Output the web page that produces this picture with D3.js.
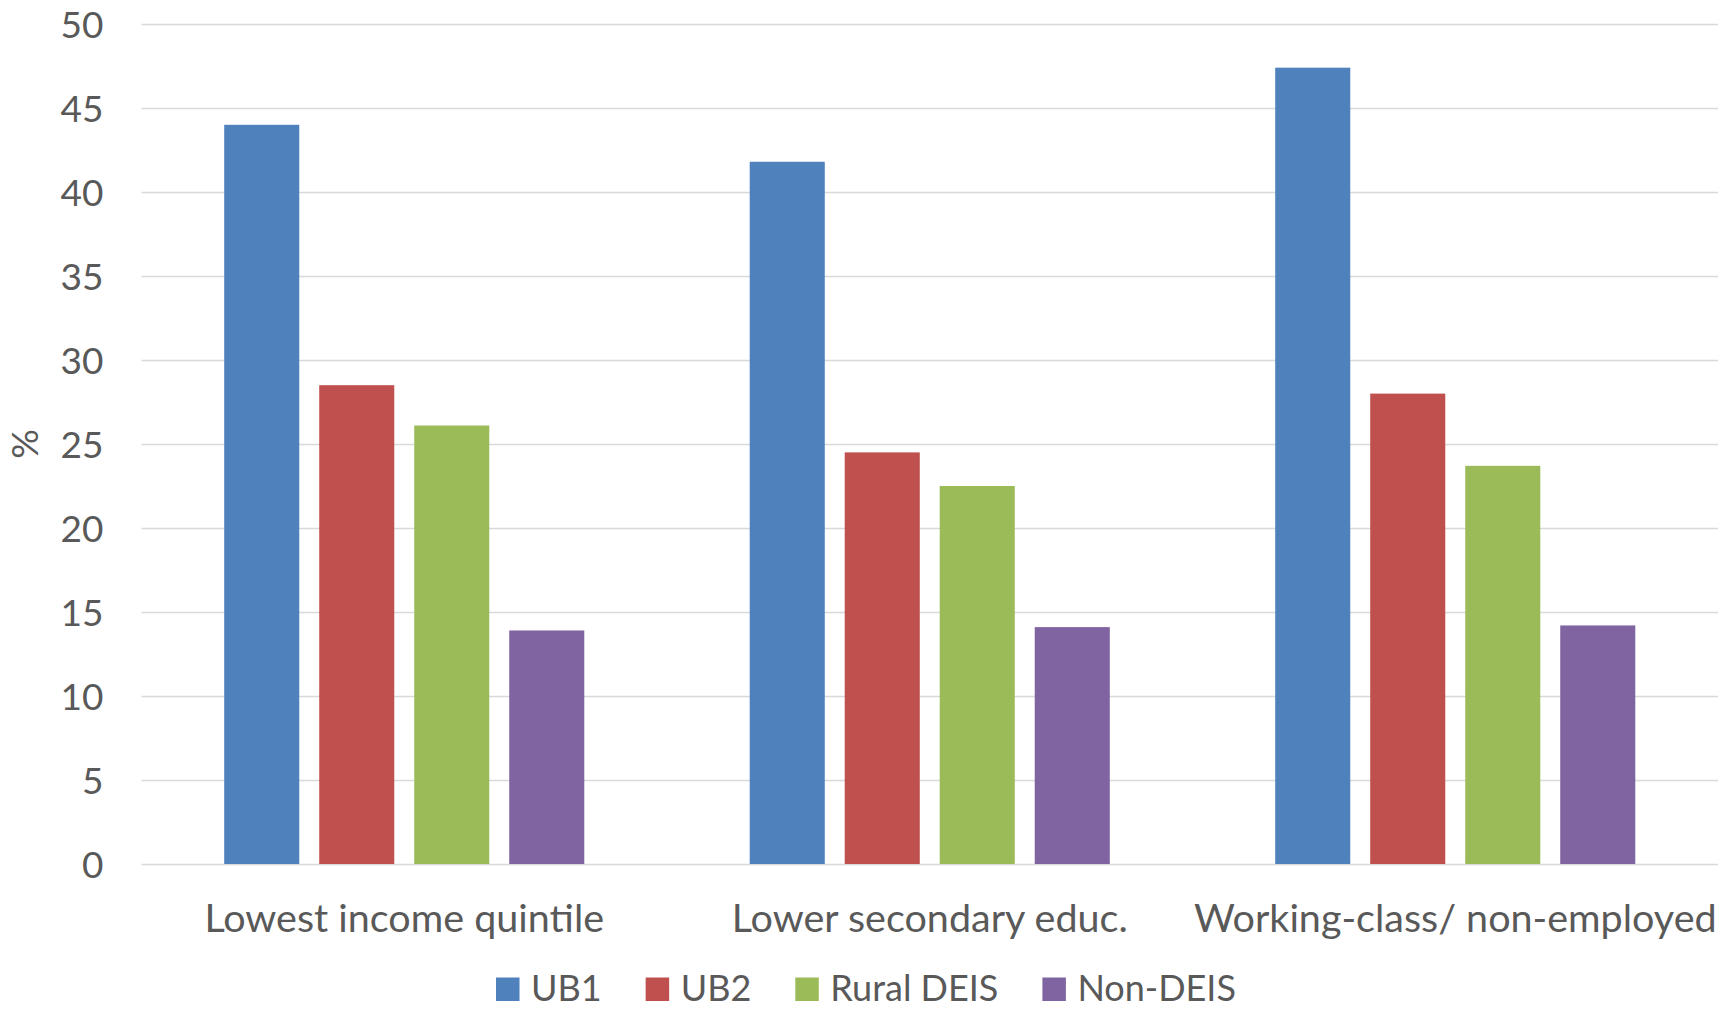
<!DOCTYPE html>
<html>
<head>
<meta charset="utf-8">
<script src="https://cdn.jsdelivr.net/npm/d3@7"></script>
<style>
  html, body { margin: 0; padding: 0; background: #fff; }
  svg { display: block; }
  text { font-family: Lato, "Open Sans", sans-serif; fill: #595959; }
</style>
</head>
<body>
<svg id="chart" width="1732" height="1010"></svg>
<script>
const categories = ["Lowest income quintile", "Lower secondary educ.", "Working-class/ non-employed"];
const seriesNames = ["UB1", "UB2", "Rural DEIS", "Non-DEIS"];
const seriesColors = ["#4f81bd", "#c0504d", "#9bbb59", "#8064a2"];
const ub1 = [44.0, 41.8, 47.4];
const ub2 = [28.5, 24.5, 28.0];
const ruralDeis = [26.1, 22.5, 23.7];
const nonDeis = [13.9, 14.1, 14.2];
const yTicks = [0, 5, 10, 15, 20, 25, 30, 35, 40, 45, 50];
const yLabel = "%";

const seriesValues = [ub1, ub2, ruralDeis, nonDeis];
const W = 1732, H = 1010;
const margin = { left: 141.5, right: 14, top: 24, bottom: 146 };
const svg = d3.select("#chart");

const x0 = d3.scaleBand().domain(categories)
  .range([margin.left, W - margin.right]).paddingInner(0).paddingOuter(0);
const bw = x0.bandwidth();
const clusterFrac = 360 / 525.4;
const x1 = d3.scaleBand().domain(seriesNames)
  .range([bw * (1 - clusterFrac) / 2, bw * (1 + clusterFrac) / 2])
  .paddingInner(0.21).paddingOuter(0);
const y = d3.scaleLinear().domain([0, 50]).range([H - margin.bottom, margin.top]);

// gridlines via axis
const yAxis = d3.axisLeft(y).tickValues(yTicks)
  .tickSize(-(W - margin.left - margin.right)).tickPadding(38).tickFormat(d3.format("d"));
const gy = svg.append("g").attr("transform", `translate(${margin.left},0)`).call(yAxis);
gy.select(".domain").remove();
gy.selectAll(".tick line").attr("stroke", "#d9d9d9").attr("stroke-width", 1.6);
gy.selectAll(".tick text").attr("font-size", 37).attr("fill", "#595959")
  .attr("font-family", "Lato, 'Open Sans', sans-serif").attr("dy", "0.36em");

// bars
const groups = svg.append("g").selectAll("g").data(categories).join("g")
  .attr("transform", d => `translate(${x0(d)},0)`);
groups.selectAll("rect")
  .data((c, ci) => seriesNames.map((s, si) => ({ s, si, v: seriesValues[si][ci] })))
  .join("rect")
  .attr("x", d => x1(d.s))
  .attr("width", x1.bandwidth())
  .attr("y", d => y(d.v))
  .attr("height", d => y(0) - y(d.v))
  .attr("fill", d => seriesColors[d.si]);

// x axis labels
const xAxis = d3.axisBottom(x0).tickSize(0).tickPadding(0);
const gx = svg.append("g").attr("transform", `translate(0,${y(0)})`).call(xAxis);
gx.select(".domain").remove();
gx.selectAll(".tick text").attr("font-size", 39.5).attr("fill", "#595959")
  .attr("font-family", "Lato, 'Open Sans', sans-serif")
  .attr("dy", null).attr("y", 68);

// y label
svg.append("text")
  .attr("transform", `translate(${38},${(y(0) + y(50)) / 2}) rotate(-90)`)
  .attr("text-anchor", "middle").attr("font-size", 37).text(yLabel);

// legend
const legend = svg.append("g");
let cx = 0;
seriesNames.forEach((s, i) => {
  const g = legend.append("g");
  g.append("rect").attr("x", 0).attr("y", -23.5).attr("width", 23.5).attr("height", 23.5)
    .attr("fill", seriesColors[i]);
  const t = g.append("text").attr("x", 35).attr("y", 0).attr("font-size", 36).text(s);
  const tw = t.node().getComputedTextLength();
  g.attr("transform", `translate(${cx},0)`);
  cx += 35 + tw + 44;
});
const totalW = cx - 44;
legend.attr("transform", `translate(${W / 2 - totalW / 2},${1001})`);
</script>
</body>
</html>
